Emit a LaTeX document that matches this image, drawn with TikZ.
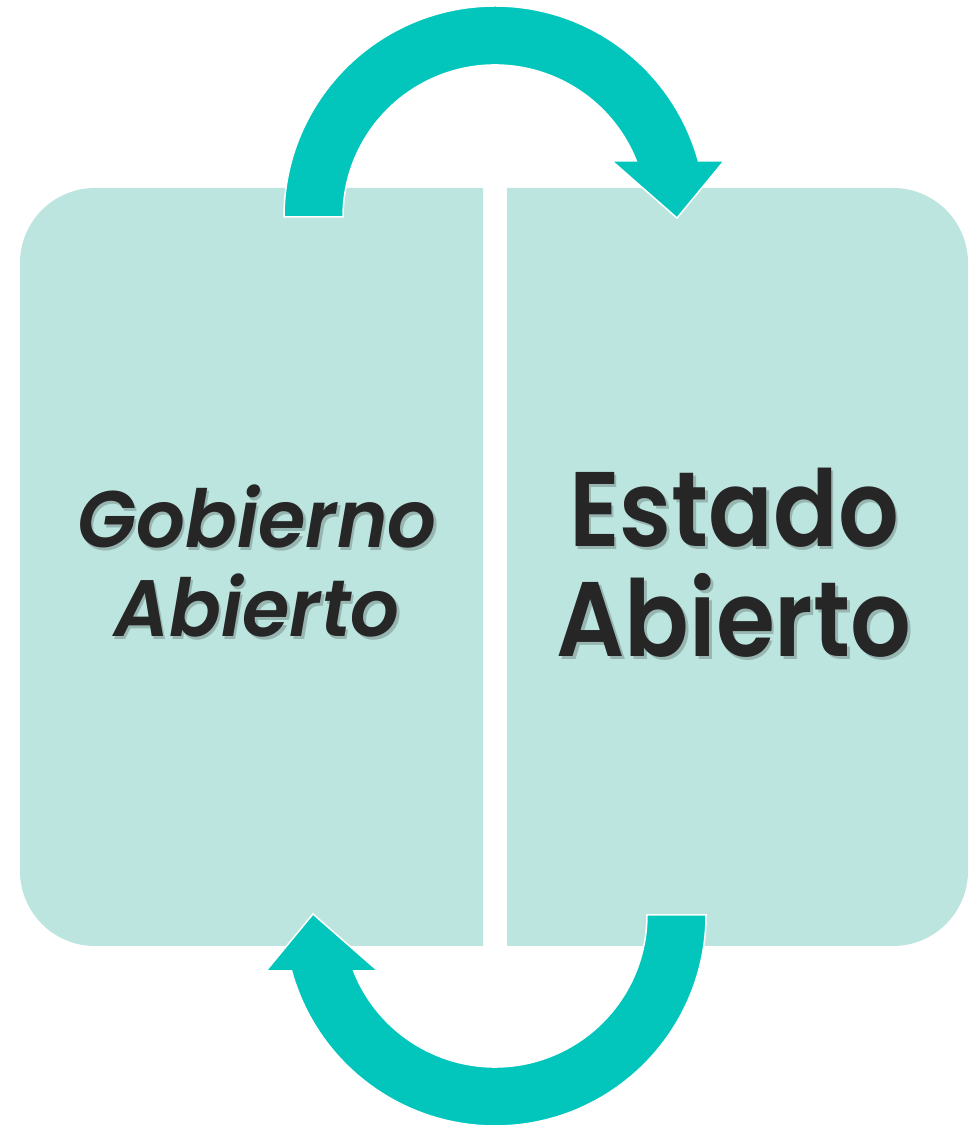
\documentclass[tikz,border=0pt]{standalone}
\usepackage{fontspec}
\setmainfont{Poppins}[BoldFont={Poppins SemiBold},BoldItalicFont={Poppins SemiBold Italic}]
\definecolor{boxfill}{HTML}{BDE5E0}
\definecolor{arrowfill}{HTML}{02C6BC}
\definecolor{txt}{HTML}{262626}
\definecolor{shadowc}{HTML}{5E706D}
\tikzset{
  boxshape/.style={fill=boxfill, draw=none},
  bigarrow/.style={fill=arrowfill, draw=white, line width=1.5pt, line join=miter},
  lbl/.style={anchor=base, inner sep=0pt, text=txt},
  lblshadow/.style={anchor=base, inner sep=0pt, text=shadowc, opacity=0.4},
}
\begin{document}
\begin{tikzpicture}[x=1pt,y=1pt]
\useasboundingbox[fill=white] (0,0) rectangle (974,1127);
% boxes
\fill[boxshape] (483,181) -- (95,181) arc[start angle=270,end angle=180,radius=75]
  -- (20,864) arc[start angle=180,end angle=90,radius=75] -- (483,939) -- cycle;
\fill[boxshape] (507,181) -- (893,181) arc[start angle=270,end angle=360,radius=75]
  -- (968,864) arc[start angle=0,end angle=90,radius=75] -- (507,939) -- cycle;
% top arrow
\filldraw[bigarrow] (284,910) arc[start angle=180,end angle=15.39,radius=211]
  -- (724,966) -- (677,909) -- (612,966) -- (636.3,966)
  arc[start angle=21.62,end angle=180,radius=152] -- cycle;
% bottom arrow (top arrow turned half round)
\begin{scope}[rotate around={180:(495,561)}]
\filldraw[bigarrow] (284,910) arc[start angle=180,end angle=15.39,radius=211]
  -- (724,966) -- (677,909) -- (612,966) -- (636.3,966)
  arc[start angle=21.62,end angle=180,radius=152] -- cycle;
\end{scope}
% texts
\newcommand{\gobfont}{\fontsize{80}{90}\selectfont\bfseries\itshape}
\newcommand{\estfont}{\fontsize{106}{112}\selectfont\bfseries}
\newcommand{\gobtext}[1]{\scalebox{0.96}[1]{\gobfont #1}}
\newcommand{\esttext}[1]{\scalebox{0.9}[1]{\estfont #1}}
\node[lblshadow] (gob1s) at (259.5,576.5) {\gobtext{Gobierno}};
\node[lblshadow] (gob2s) at (259.5,487.5) {\gobtext{Abierto}};
\node[lbl] (gob1) at (257,579) {\gobtext{Gobierno}};
\node[lbl] (gob2) at (257,490) {\gobtext{Abierto}};
\node[lblshadow] (est1s) at (736.5,577.5) {\esttext{Estado}};
\node[lblshadow] (est2s) at (736.5,467.5) {\esttext{Abierto}};
\node[lbl] (est1) at (734,580) {\esttext{Estado}};
\node[lbl] (est2) at (734,470) {\esttext{Abierto}};
\end{tikzpicture}
\end{document}
